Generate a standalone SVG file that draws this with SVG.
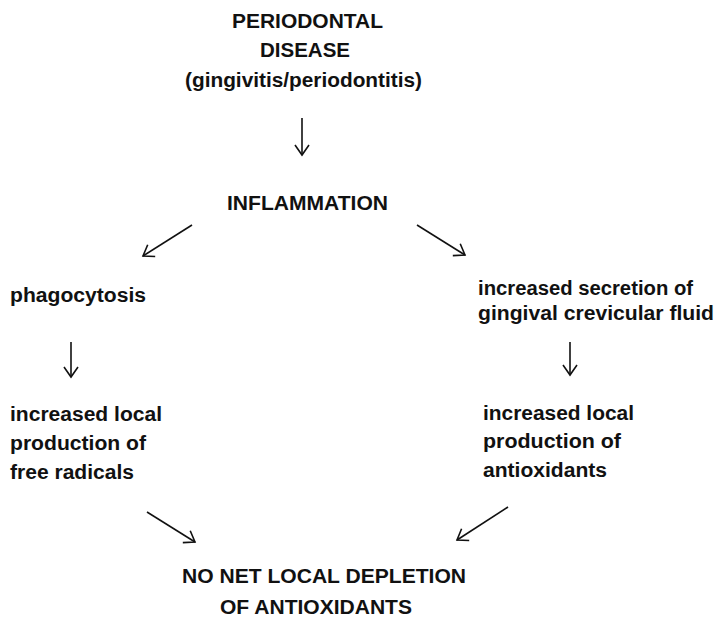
<svg xmlns="http://www.w3.org/2000/svg" width="719" height="623" viewBox="0 0 719 623">
<defs>
<style>
text{font-family:"Liberation Sans",Arial,sans-serif;font-weight:bold;font-size:20px;fill:#111}
.c line{stroke:#111;stroke-width:1.6;fill:none}
</style>
<marker id="ah" markerUnits="userSpaceOnUse" markerWidth="24" markerHeight="24" viewBox="-12 -12 24 24" refX="0" refY="0" orient="auto">
<path d="M-10,-7 L0,0 L-10,7" fill="none" stroke="#111" stroke-width="1.6" stroke-linejoin="miter"/>
</marker>
</defs>
<rect width="719" height="623" fill="#fff"/>
<g id="periodontal-disease">
<text x="232" y="28" textLength="151" lengthAdjust="spacingAndGlyphs">PERIODONTAL</text>
<text x="260" y="57" textLength="90" lengthAdjust="spacingAndGlyphs">DISEASE</text>
<text x="185" y="87" textLength="237" lengthAdjust="spacingAndGlyphs">(gingivitis/periodontitis)</text>
</g>
<g id="inflammation">
<text x="227" y="210" textLength="161" lengthAdjust="spacingAndGlyphs">INFLAMMATION</text>
</g>
<g id="phagocytosis">
<text x="10" y="302" textLength="136" lengthAdjust="spacingAndGlyphs">phagocytosis</text>
</g>
<g id="gcf">
<text x="478" y="295" textLength="215" lengthAdjust="spacingAndGlyphs">increased secretion of</text>
<text x="478" y="320" textLength="236" lengthAdjust="spacingAndGlyphs">gingival crevicular fluid</text>
</g>
<g id="free-radicals">
<text x="10" y="421" textLength="152" lengthAdjust="spacingAndGlyphs">increased local</text>
<text x="10" y="450" textLength="136" lengthAdjust="spacingAndGlyphs">production of</text>
<text x="10" y="479" textLength="124" lengthAdjust="spacingAndGlyphs">free radicals</text>
</g>
<g id="antioxidants">
<text x="483" y="420" textLength="151" lengthAdjust="spacingAndGlyphs">increased local</text>
<text x="483" y="448" textLength="138" lengthAdjust="spacingAndGlyphs">production of</text>
<text x="483" y="477" textLength="124" lengthAdjust="spacingAndGlyphs">antioxidants</text>
</g>
<g id="no-net-depletion">
<text x="182" y="583" textLength="284" lengthAdjust="spacingAndGlyphs">NO NET LOCAL DEPLETION</text>
<text x="220" y="614" textLength="192" lengthAdjust="spacingAndGlyphs">OF ANTIOXIDANTS</text>
</g>
<g id="connectors" class="c">
<line x1="302" y1="118" x2="302" y2="155" marker-end="url(#ah)"/>
<line x1="192" y1="225" x2="143" y2="256" marker-end="url(#ah)"/>
<line x1="417" y1="225" x2="465" y2="255" marker-end="url(#ah)"/>
<line x1="71" y1="342" x2="71" y2="377" marker-end="url(#ah)"/>
<line x1="570" y1="342" x2="570" y2="375" marker-end="url(#ah)"/>
<line x1="147" y1="512" x2="195" y2="542" marker-end="url(#ah)"/>
<line x1="508" y1="507" x2="457" y2="540" marker-end="url(#ah)"/>
</g>
</svg>
